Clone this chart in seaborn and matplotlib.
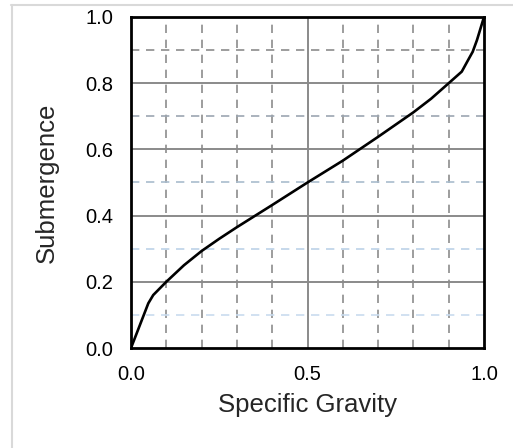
import matplotlib
matplotlib.use("Agg")
import matplotlib.pyplot as plt
from matplotlib.lines import Line2D
import seaborn as sns
import pandas as pd

# data
specific_gravity = [0.0, 0.02, 0.049, 0.063, 0.1, 0.15, 0.2, 0.25, 0.3, 0.4, 0.5,
                    0.6, 0.7, 0.8, 0.85, 0.9, 0.937, 0.955, 0.968, 0.98, 1.0]
submergence = [0.0, 0.055, 0.135, 0.16, 0.2, 0.25, 0.293, 0.33, 0.365, 0.432, 0.5,
               0.566, 0.638, 0.712, 0.753, 0.80, 0.835, 0.87, 0.895, 0.93, 1.0]
x_ticks = [0.0, 0.5, 1.0]
x_tick_labels = ["0.0", "0.5", "1.0"]
y_ticks = [0.0, 0.2, 0.4, 0.6, 0.8, 1.0]
y_tick_labels = ["0.0", "0.2", "0.4", "0.6", "0.8", "1.0"]
x_minor = [0.1, 0.2, 0.3, 0.4, 0.6, 0.7, 0.8, 0.9]
y_minor = [0.1, 0.3, 0.5, 0.7, 0.9]
y_minor_colors = ["#c9dcef", "#bcd2e8", "#a9bccd", "#9ca6b1", "#8c8c8c"]

df = pd.DataFrame({"Specific Gravity": specific_gravity, "Submergence": submergence})

sns.set_theme(style="white")
plt.rcParams["font.family"] = ["Liberation Sans", "DejaVu Sans"]

fig = plt.figure(figsize=(5.13, 4.48), dpi=100)
ax = fig.add_axes([131 / 513, 1 - 348 / 448, (484 - 131) / 513, (348 - 17) / 448])

# grid
for xv in x_minor:
    ax.axvline(xv, color="#8c8c8c", lw=1.2, ls=(0, (5, 4)), zorder=1)
for yv, c in zip(y_minor, y_minor_colors):
    ax.axhline(yv, color=c, lw=1.2, ls=(0, (5, 4)), zorder=1)
for xv in [0.5]:
    ax.axvline(xv, color="#8a8a8a", lw=1.4, zorder=1.5)
for yv in [0.2, 0.4, 0.6, 0.8]:
    ax.axhline(yv, color="#8a8a8a", lw=1.4, zorder=1.5)

sns.lineplot(data=df, x="Specific Gravity", y="Submergence", sort=False,
             color="black", lw=1.9, ax=ax, zorder=3)

ax.set_xlim(0, 1)
ax.set_ylim(0, 1)
ax.set_xticks(x_ticks)
ax.set_xticklabels(x_tick_labels)
ax.set_yticks(y_ticks)
ax.set_yticklabels(y_tick_labels)
ax.tick_params(axis="x", length=0, labelsize=14.5, colors="black", pad=12)
ax.tick_params(axis="y", length=0, labelsize=14.5, colors="black", pad=13)
ax.set_xlabel("Specific Gravity", fontsize=18.5, labelpad=7)
ax.set_ylabel("Submergence", fontsize=18.5, labelpad=19)

for s in ax.spines.values():
    s.set_visible(True)
    s.set_color("black")
    s.set_linewidth(2.0)
    s.set_zorder(4)

# outer light border of the chart area
fig.add_artist(Line2D([11 / 513, 1], [1 - 5.5 / 448, 1 - 5.5 / 448], color="#d9d9d9", lw=1.5, transform=fig.transFigure))
fig.add_artist(Line2D([11.5 / 513, 11.5 / 513], [0, 1 - 5.5 / 448], color="#d9d9d9", lw=1.5, transform=fig.transFigure))

fig.savefig("out.png", dpi=100)
